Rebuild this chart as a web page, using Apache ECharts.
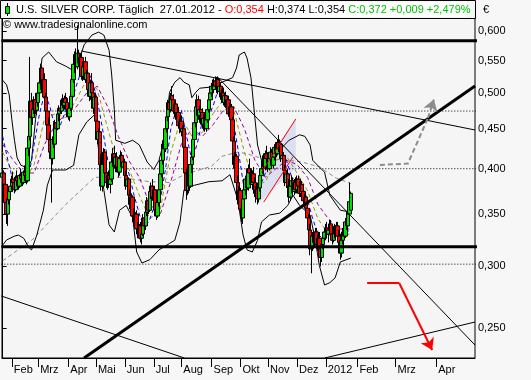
<!DOCTYPE html>
<html>
<head>
<meta charset="utf-8">
<script src="https://cdn.jsdelivr.net/npm/echarts@6/dist/echarts.min.js"></script>
<style>
  html, body { margin: 0; padding: 0; background: #f7f7f7; }
  #chart { width: 531px; height: 380px; }
</style>
</head>
<body>
<div id="chart"></div>
<script>
// daily bars [open, high, low, close]
const jan11 = [[.390,.400,.385,.395],[.395,.398,.378,.382],[.382,.385,.360,.362],[.362,.366,.340,.350],[.350,.368,.338,.365],[.365,.378,.360,.374],[.374,.384,.368,.380]]
const feb11 = [[.380,.392,.375,.388],[.388,.396,.380,.384],[.384,.390,.372,.376],[.376,.392,.374,.390],[.390,.398,.384,.386],[.386,.392,.376,.380],[.380,.394,.378,.392],[.392,.400,.386,.388],[.388,.394,.380,.384],[.384,.398,.382,.396],
  [.396,.404,.388,.392],[.392,.396,.382,.386],[.386,.430,.384,.425],[.425,.445,.415,.440],[.440,.556,.435,.488],[.488,.500,.458,.465],[.465,.480,.455,.476],[.476,.495,.470,.490],[.490,.500,.470,.475],[.475,.492,.468,.486]]
const mar11 = [[.486,.505,.480,.500],[.500,.520,.495,.515],[.515,.545,.505,.538],[.538,.542,.500,.506],[.506,.525,.500,.520],[.520,.530,.490,.494],[.494,.500,.470,.474],[.474,.480,.450,.455],[.455,.465,.430,.436],[.436,.445,.415,.420],
  [.420,.430,.362,.412],[.412,.440,.405,.436],[.436,.450,.425,.430],[.430,.462,.428,.458],[.458,.468,.445,.450],[.450,.475,.448,.470],[.470,.482,.460,.478],[.478,.490,.470,.474],[.474,.492,.470,.488],[.488,.498,.478,.482],
  [.482,.496,.476,.492],[.492,.500,.480,.486],[.486,.494,.472,.476]]
const apr11 = [[.476,.485,.462,.466],[.466,.480,.460,.478],[.478,.498,.474,.495],[.495,.525,.490,.520],[.520,.548,.515,.544],[.544,.565,.530,.560],[.560,.570,.535,.540],[.540,.610,.536,.562],[.562,.568,.540,.546],[.546,.560,.530,.555],
  [.555,.562,.520,.525],[.525,.545,.518,.540],[.540,.552,.528,.548],[.548,.556,.515,.520],[.520,.535,.505,.530],[.530,.540,.500,.505],[.505,.512,.488,.495],[.495,.520,.490,.515],[.515,.530,.495,.500],[.500,.505,.470,.478],
  [.478,.500,.472,.494]]
const may11 = [[.494,.498,.455,.460],[.460,.470,.430,.436],[.436,.450,.430,.446],[.446,.450,.400,.405],[.405,.418,.375,.380],[.380,.410,.374,.405],[.405,.425,.398,.420],[.420,.424,.390,.395],[.395,.402,.378,.384],[.384,.396,.376,.392],
  [.392,.398,.378,.382],[.382,.390,.372,.388],[.388,.412,.385,.408],[.408,.425,.402,.418],[.418,.428,.400,.404],[.404,.418,.396,.414],[.414,.420,.398,.402],[.402,.410,.390,.396],[.396,.416,.392,.412],[.412,.422,.404,.416],
  [.416,.420,.398,.402],[.402,.412,.394,.408]]
const jun11 = [[.408,.412,.388,.392],[.392,.398,.376,.380],[.380,.392,.372,.388],[.388,.390,.366,.370],[.370,.376,.355,.360],[.360,.372,.356,.368],[.368,.370,.345,.348],[.348,.356,.338,.342],[.342,.352,.336,.350],[.350,.354,.332,.335],
  [.335,.342,.326,.330],[.330,.340,.325,.338],[.338,.342,.322,.326],[.326,.334,.320,.330],[.330,.350,.328,.346],[.346,.352,.334,.338],[.338,.356,.334,.352],[.352,.368,.348,.364],[.364,.372,.350,.354],[.354,.378,.352,.374],
  [.374,.384,.366,.380],[.380,.388,.364,.368]]
const jul11 = [[.368,.380,.360,.376],[.376,.380,.350,.354],[.354,.362,.344,.348],[.348,.366,.346,.362],[.362,.380,.358,.376],[.376,.398,.372,.394],[.394,.415,.390,.410],[.410,.435,.405,.430],[.430,.445,.420,.424],[.424,.455,.420,.450],
  [.450,.470,.445,.466],[.466,.490,.460,.486],[.486,.495,.470,.476],[.476,.500,.472,.496],[.496,.510,.485,.490],[.490,.498,.470,.474],[.474,.488,.466,.484],[.484,.490,.462,.466],[.466,.478,.456,.472],[.472,.480,.450,.454],
  [.454,.466,.444,.460]]
const aug11 = [[.460,.468,.440,.446],[.446,.455,.430,.450],[.450,.456,.420,.426],[.426,.430,.390,.395],[.395,.400,.365,.375],[.375,.400,.370,.396],[.396,.405,.372,.380],[.380,.410,.378,.405],[.405,.420,.395,.414],[.414,.440,.410,.436],
  [.436,.462,.430,.458],[.458,.485,.452,.480],[.480,.498,.470,.490],[.490,.496,.462,.468],[.468,.482,.458,.476],[.476,.490,.468,.472],[.472,.478,.450,.456],[.456,.470,.448,.464],[.464,.472,.446,.450],[.450,.468,.446,.462],
  [.462,.480,.458,.476],[.476,.494,.472,.490],[.490,.505,.484,.500]]
const sep11 = [[.500,.515,.494,.510],[.510,.520,.500,.505],[.505,.522,.500,.518],[.518,.525,.505,.510],[.510,.524,.500,.520],[.520,.525,.498,.502],[.502,.514,.495,.510],[.510,.516,.490,.494],[.494,.506,.488,.500],[.500,.508,.482,.486],
  [.486,.500,.480,.496],[.496,.502,.478,.482],[.482,.494,.474,.490],[.490,.496,.466,.470],[.470,.486,.464,.480],[.480,.484,.458,.462],[.462,.466,.430,.434],[.434,.440,.400,.405],[.405,.420,.395,.415],[.415,.418,.380,.384],
  [.384,.392,.360,.365],[.365,.380,.356,.375]]
const oct11 = [[.375,.378,.350,.355],[.355,.362,.342,.346],[.346,.370,.340,.366],[.366,.380,.360,.376],[.376,.392,.370,.388],[.388,.396,.372,.378],[.378,.405,.375,.400],[.400,.412,.390,.395],[.395,.400,.378,.382],[.382,.398,.376,.394],
  [.394,.402,.380,.384],[.384,.390,.368,.372],[.372,.380,.362,.376],[.376,.384,.360,.366],[.366,.382,.362,.378],[.378,.396,.374,.392],[.392,.405,.386,.400],[.400,.416,.394,.410],[.410,.418,.396,.402],[.402,.422,.398,.418],
  [.418,.428,.408,.412]]
const nov11 = [[.412,.420,.396,.400],[.400,.416,.398,.412],[.412,.426,.406,.420],[.420,.424,.400,.404],[.404,.418,.400,.414],[.414,.430,.410,.426],[.426,.432,.414,.418],[.418,.436,.416,.432],[.432,.442,.420,.424],[.424,.436,.418,.430],
  [.430,.434,.408,.412],[.412,.420,.400,.416],[.416,.420,.396,.398],[.398,.404,.380,.384],[.384,.398,.378,.394],[.394,.400,.376,.380],[.380,.388,.362,.368],[.368,.384,.364,.380],[.380,.392,.372,.386],[.386,.390,.370,.374],
  [.374,.388,.370,.384],[.384,.390,.372,.376]]
const dec11 = [[.376,.392,.372,.388],[.388,.392,.376,.380],[.380,.386,.368,.372],[.372,.384,.368,.382],[.382,.386,.370,.374],[.374,.378,.360,.364],[.364,.372,.356,.368],[.368,.370,.352,.356],[.356,.362,.342,.346],[.346,.350,.330,.334],
  [.334,.340,.310,.316],[.316,.322,.294,.318],[.318,.332,.314,.328],[.328,.334,.318,.322],[.322,.336,.320,.332],[.332,.336,.316,.320],[.320,.330,.314,.326],[.326,.332,.312,.316],[.316,.320,.300,.308],[.308,.322,.304,.320],
  [.320,.330,.316,.326],[.326,.336,.322,.332]]
const jan12 = [[.332,.340,.324,.336],[.336,.342,.326,.330],[.330,.338,.322,.334],[.334,.344,.330,.340],[.340,.344,.326,.330],[.330,.336,.320,.324],[.324,.338,.322,.334],[.334,.340,.326,.330],[.330,.342,.328,.338],[.338,.342,.324,.328],
  [.328,.334,.318,.322],[.322,.330,.306,.312],[.312,.326,.308,.324],[.324,.336,.320,.332],[.332,.340,.326,.328],[.328,.346,.326,.342],[.342,.352,.334,.338],[.338,.356,.336,.350],[.350,.384,.344,.363],[.354,.374,.354,.372]]

// indicator lines: [bar index, price]
const upperBand = [[0,.519],[1,.522],[3,.512],[5,.497],[7,.462],[9,.435],[11,.413],[14,.404],[19,.401],[22,.410],[25,.462],[28,.519],[30,.554],[35,.564],[41,.548],[48,.541],[53,.535],[57,.543],[62,.576],[68,.593],[73,.598],[77,.593],[81,.567],[83,.527],[85,.476],[86,.435],[93,.431],[99,.435],[104,.429],[110,.408],[115,.399],[119,.410],[122,.429],[125,.464],[127,.501],[131,.516],[135,.523],[138,.516],[142,.512],[144,.493],[147,.501],[150,.507],[160,.509],[167,.516],[175,.523],[178,.538],[180,.559],[184,.564],[186,.554],[189,.523],[192,.464],[194,.429],[197,.410],[203,.413],[211,.423],[218,.435],[226,.442],[230,.440],[234,.429],[236,.410],[241,.402],[245,.396],[249,.370],[257,.354],[265,.352]]
const lowerBand = [[0,.3195],[3,.3243],[9,.328],[12,.329],[16,.326],[20,.317],[22,.315],[26,.329],[31,.354],[34,.381],[38,.3985],[48,.3985],[54,.404],[58,.442],[64,.459],[70,.469],[73,.423],[77,.376],[81,.339],[85,.332],[89,.354],[94,.359],[99,.346],[102,.313],[106,.303],[112,.306],[119,.315],[127,.321],[131,.324],[135,.342],[138,.376],[146,.381],[157,.385],[167,.386],[173,.393],[179,.365],[183,.329],[186,.315],[190,.313],[194,.324],[197,.342],[203,.349],[211,.351],[217,.359],[221,.370],[226,.359],[234,.349],[238,.324],[241,.301],[245,.284],[249,.286],[253,.290],[257,.304],[265,.3075]]
const maBlue = [[0,.44],[4,.41],[8,.385],[12,.38],[16,.386],[20,.392],[24,.43],[28,.47],[32,.50],[36,.48],[40,.45],[44,.455],[48,.475],[52,.485],[56,.51],[60,.535],[64,.535],[68,.52],[72,.49],[76,.45],[80,.41],[84,.40],[88,.405],[92,.405],[96,.395],[100,.37],[104,.35],[108,.335],[112,.345],[116,.36],[120,.365],[124,.40],[128,.45],[132,.475],[136,.475],[140,.44],[144,.41],[148,.43],[152,.46],[156,.465],[160,.48],[164,.505],[168,.50],[172,.485],[176,.455],[180,.415],[184,.375],[188,.38],[192,.385],[196,.38],[200,.395],[204,.41],[208,.418],[212,.422],[216,.41],[220,.39],[224,.385],[228,.38],[232,.365],[236,.345],[240,.33],[244,.325],[248,.328],[252,.332],[256,.33],[260,.327],[264,.335]]
const maOlive = [[0,.42],[8,.395],[16,.385],[24,.405],[32,.465],[40,.47],[48,.465],[56,.49],[64,.52],[72,.505],[80,.45],[88,.405],[96,.40],[104,.37],[112,.345],[120,.355],[128,.42],[136,.465],[144,.44],[152,.445],[160,.47],[168,.49],[176,.475],[184,.42],[192,.38],[200,.385],[208,.41],[216,.415],[224,.395],[232,.375],[240,.345],[248,.33],[256,.33],[264,.33]]
const maPurple = [[0,.43],[8,.41],[16,.395],[24,.395],[32,.43],[40,.455],[48,.47],[56,.48],[64,.50],[72,.51],[80,.48],[88,.44],[96,.41],[104,.39],[112,.36],[120,.35],[128,.385],[136,.43],[144,.45],[152,.44],[160,.455],[168,.475],[176,.48],[184,.45],[192,.41],[200,.39],[208,.40],[216,.41],[224,.405],[232,.39],[240,.36],[248,.345],[256,.335],[264,.335]]
const maLong = [[0,.305],[23,.325],[48,.36],[70,.39],[89,.39],[112,.385],[127,.384],[138,.393],[159,.403],[167,.415],[179,.42],[186,.418],[196,.413],[217,.41],[228,.408],[241,.402],[254,.389],[265,.383]]

// drawn objects: [bar index, price]
const thickFlat = [.583, .318]
const dottedFlat = [.474, .400, .302]
const thickRise = [[62, .2291], [359.5, .5103]]
const thinFromApr = [[59.8, .5657], [359.5, .4483]]
const thinFromSep = [[163.5, .524], [359.5, .238]]
const thinLowFall = [[-3, .2757], [138.3, .2291]]
const thinLowRise = [[245.1, .2291], [359.5, .2547]]
const redChannelTop = [[197.2, .3962], [223.1, .4631]]
const redChannelLow = [[198.7, .3626], [220.9, .4140]]
const channelShade = [[195.5, .3990], [223.1, .4631], [223.1, .4009], [195.5, .3626]]
const greyPath = [[287.1, .4044], [308.4, .4060], [323.7, .4644]]
const greyHead = [[323.7, .4644], [328.2, .4903]]
const redPath = [[277.4, .2857], [301.8, .2857]]
const redHead = [[301.8, .2857], [326.9, .2346]]

const priceTicks = [0.25, 0.30, 0.35, 0.40, 0.45, 0.50, 0.55, 0.60]
const monthNames = ['2012', 'Feb', 'Mrz', 'Apr', 'Mai', 'Jun', 'Jul', 'Aug', 'Sep', 'Okt', 'Nov', 'Dez']
const yTop = 0.6234
const yBottom = 0.2291

const bars = [].concat(jan11, feb11, mar11, apr11, may11, jun11, jul11, aug11, sep11, oct11, nov11, dec11, jan12)

// trading days up to the last bar, calendar days after it
const days = []
const lastBar = Date.UTC(2012, 0, 27)
for (let t = Date.UTC(2011, 0, 21); t <= Date.UTC(2012, 3, 30); t += 86400000) {
  const wd = new Date(t).getUTCDay()
  if (t > lastBar || (wd !== 0 && wd !== 6)) days.push(t)
}
const monthIdx = []
const monthLabel = {}
days.forEach((t, i) => {
  const d = new Date(t)
  if (i > 0 && new Date(days[i - 1]).getUTCMonth() !== d.getUTCMonth()) {
    monthIdx.push(i)
    monthLabel[i] = monthNames[d.getUTCMonth()]
  }
})

const L = Math.log
const toXY = pts => pts.map(p => [p[0], L(p[1])])
const font = 'Liberation Sans, Arial, sans-serif'

const lineSeries = (pts, color, width, type, z) => ({
  type: 'line', data: toXY(pts), symbol: 'none', silent: true, z: z || 3,
  lineStyle: { color: color, width: width, type: type || 'solid' }, animation: false
})
const segSeries = (pts, color, width, type, arrow, z) => ({
  type: 'lines', coordinateSystem: 'cartesian2d', silent: true, z: z || 6, animation: false,
  polyline: !arrow,
  symbol: arrow ? ['none', 'arrow'] : 'none', symbolSize: arrow ? [9, 11] : 0,
  lineStyle: { color: color, width: width, type: type || 'solid', opacity: 1 },
  data: [{ coords: toXY(pts) }]
})

const series = [
  {
    type: 'custom', silent: true, z: 1, data: [[0, 0]], animation: false,
    renderItem: (params, api) => ({
      type: 'polygon',
      shape: { points: channelShade.map(p => api.coord([p[0], L(p[1])])) },
      style: { fill: '#dcdff2' }
    })
  },
  ...dottedFlat.map(v => segSeries([[-1, v], [361, v]], '#000', 1, [1, 2], false, 2)),
  lineSeries(maLong, '#8c8c8c', 1, [4, 3], 2),
  lineSeries(upperBand, '#000', 1, 'solid', 3),
  lineSeries(lowerBand, '#000', 1, 'solid', 3),
  lineSeries(maPurple, '#990099', 1, [4, 3], 3),
  lineSeries(maOlive, '#999900', 1, [4, 3], 3),
  lineSeries(maBlue, '#0000ff', 1, [4, 3], 3),
  {
    type: 'candlestick', z: 4, animation: false, barWidth: 4,
    data: bars.map((b, i) => [i, L(b[0]), L(b[3]), L(b[2]), L(b[1])]),
    encode: { x: 0, y: [1, 2, 3, 4] },
    itemStyle: { color: '#00e000', color0: '#ff0000', borderColor: '#000', borderColor0: '#000', borderWidth: 1 }
  },
  ...thickFlat.map(v => segSeries([[-1, v], [361, v]], '#000', 3, 'solid', false, 6)),
  segSeries(thickRise, '#000', 3),
  segSeries(thinFromApr, '#000', 1),
  segSeries(thinFromSep, '#000', 1),
  segSeries(thinLowFall, '#000', 1),
  segSeries(thinLowRise, '#000', 1),
  segSeries(redChannelTop, '#ff0000', 1),
  segSeries(redChannelLow, '#ff0000', 1),
  segSeries(greyPath, '#8c8c8c', 2, [5, 3]),
  segSeries(greyHead, '#8c8c8c', 2, [5, 3], true),
  segSeries(redPath, '#ff0000', 2),
  segSeries(redHead, '#ff0000', 2, 'solid', true)
]

const chart = echarts.init(document.getElementById('chart'), null, { renderer: 'canvas' })
chart.setOption({
  animation: false,
  backgroundColor: '#f7f7f7',
  grid: { left: 2, right: 56, top: 18, bottom: 22, show: true, backgroundColor: '#f5f5f5', borderColor: '#000', borderWidth: 1 },
  xAxis: {
    type: 'value', min: -0.5, max: days.length - 0.5,
    axisLine: { lineStyle: { color: '#000', width: 1 } },
    axisTick: { customValues: monthIdx, length: 9, lineStyle: { color: '#000' } },
    axisLabel: {
      customValues: monthIdx, formatter: v => monthLabel[v] || '', align: 'left', margin: 6,
      padding: [0, 0, 0, 2], color: '#000', fontSize: 11, fontFamily: font
    },
    splitLine: { show: false }
  },
  yAxis: {
    type: 'value', position: 'right', min: L(yBottom), max: L(yTop),
    axisLine: { show: true, lineStyle: { color: '#000' } },
    axisTick: { customValues: priceTicks.map(L), length: 4, lineStyle: { color: '#000' } },
    axisLabel: {
      customValues: priceTicks.map(L), margin: 3, color: '#000', fontSize: 11, fontFamily: font,
      formatter: v => Math.exp(v).toFixed(3).replace('.', ',')
    },
    splitLine: { show: false }
  },
  graphic: [
    { type: 'rect', shape: { x: 0.5, y: 0.5, width: 475, height: 18 }, style: { fill: '#f5f5f5', stroke: '#000', lineWidth: 1 }, z: 100 },
    { type: 'rect', shape: { x: 14, y: 2, width: 452, height: 15 }, style: { fill: '#ffffff' }, z: 101 },
    { type: 'line', shape: { x1: 7.5, y1: 3, x2: 7.5, y2: 16 }, style: { stroke: '#000', lineWidth: 1 }, z: 102 },
    { type: 'rect', shape: { x: 5.5, y: 6.5, width: 4, height: 7 }, style: { fill: '#00e000', stroke: '#000', lineWidth: 1 }, z: 103 },
    {
      type: 'text', x: 16, y: 10, z: 104,
      style: {
        text: '{k|U.S. SILVER CORP. Täglich  27.01.2012 - }{r|O:0,354}{k| H:0,374 L:0,354 }{g|C:0,372 +0,009 +2,479%}',
        verticalAlign: 'middle', font: '11px ' + font,
        rich: {
          k: { fill: '#000', font: '11px ' + font },
          r: { fill: '#ff0000', font: '11px ' + font },
          g: { fill: '#00c000', font: '11px ' + font }
        }
      }
    },
    { type: 'text', x: 3, y: 25, z: 104, style: { text: '© www.tradesignalonline.com', fill: '#000', font: '11px ' + font, verticalAlign: 'middle' } },
    { type: 'text', x: 483, y: 10, z: 104, style: { text: '€', fill: '#000', font: '11px ' + font, verticalAlign: 'middle' } }
  ],
  series: series
})
</script>
</body>
</html>
